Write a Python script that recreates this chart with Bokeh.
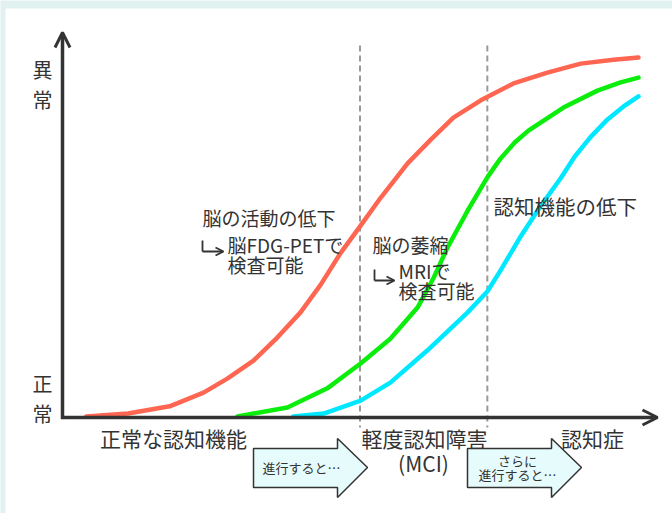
from bokeh.plotting import figure
from bokeh.models import Range1d, Arrow, OpenHead, BoxAnnotation
from bokeh.core.properties import value
from bokeh.embed import file_html
from bokeh.resources import INLINE

# ---- data (x: progression 0-100, y: abnormality 0-100) ----
red_x = [4, 11, 18, 23.7, 27.7, 32.1, 36.1, 40, 43.4, 46.7, 50.1, 53.5, 58, 61.9, 65.7, 70.3, 75.8, 81.5, 87.1, 92.6, 96.8]
red_y = [0.3, 1.1, 3.1, 6.9, 10.8, 15.8, 22.2, 29.2, 36.9, 45.6, 53.3, 61.1, 70.6, 77.2, 83.3, 88.1, 92.8, 95.8, 98.3, 99.4, 100]

green_x = [29.4, 37.8, 44.5, 50.1, 55.1, 59.7, 62.4, 64.7, 68.1, 71.4, 73.6, 76, 78.3, 84.2, 89.9, 93.8, 96.8]
green_y = [0.3, 2.8, 8.1, 15, 21.9, 30.6, 38.9, 47.2, 57.5, 66.7, 71.9, 76.4, 79.7, 86.1, 90.8, 93.1, 94.4]

cyan_x = [38.8, 43.9, 50.1, 55.1, 61.3, 68.1, 71.4, 73.6, 77, 80.3, 83.7, 86.1, 88.7, 91.6, 94.3, 96.8]
cyan_y = [0.3, 1.1, 4.7, 9.7, 18.6, 29.2, 35, 40.8, 50.3, 58.6, 66.4, 72.5, 77.8, 82.8, 86.4, 89.2]

stage_bounds = [50, 71.4]
stage_labels = ["正常な認知機能", "軽度認知障害", "認知症"]
stage_sub = "(MCI)"
y_labels = ["異\n常", "正\n常"]
notes = ["脳の活動の低下", "脳FDG-PETで", "検査可能", "脳の萎縮", "MRIで", "検査可能"]
note_main = "認知機能の低下"
arrow_texts = ["進行すると…", "さらに", "進行すると…"]

# ---- pixel layout helpers ----
PX_X0, PX_Y0, SX, SY = 62.0, 417.0, 5.95, 3.6
def dx(px):
    return (px - PX_X0) / SX
def dy(py):
    return (PX_Y0 - py) / SY

W, H = 672, 513
p = figure(width=W, height=H, output_backend="svg", toolbar_location=None,
           x_range=Range1d(dx(0), dx(W)), y_range=Range1d(dy(H), dy(0)),
           x_axis_location=None, y_axis_location=None, min_border=0,
           background_fill_color="#e1f1f0", border_fill_color="#e1f1f0")
p.outline_line_color = None
p.grid.visible = False

# white panel
p.add_layout(BoxAnnotation(left=dx(5), right=dx(W + 2), top=dy(8), bottom=dy(H + 2),
                           fill_color="white", fill_alpha=1, line_color=None, level="underlay"))

FONT = value("Noto Sans CJK JP")
TXT = "#333333"
DARK = "#333333"

# dashed stage boundaries
p.segment(x0=stage_bounds, y0=[dy(45)] * 2, x1=stage_bounds, y1=[dy(427)] * 2,
          line_color="#999999", line_width=2, line_dash="6 4")

# curves
for xs, ys, col in [(red_x, red_y, "#ff6652"), (green_x, green_y, "#0bee0b"), (cyan_x, cyan_y, "#00e8ff")]:
    p.line(xs, ys, line_color=col, line_width=4.5, line_join="round", line_cap="round")

# axes with open arrow heads
p.add_layout(Arrow(end=OpenHead(size=15, line_width=3, line_color=DARK),
                   x_start=dx(60.5), y_start=0, x_end=dx(657), y_end=0,
                   line_width=3.5, line_color=DARK))
p.add_layout(Arrow(end=OpenHead(size=15, line_width=3, line_color=DARK),
                   x_start=0, y_start=dy(418.5), x_end=0, y_end=dy(32),
                   line_width=3.5, line_color=DARK))

# y end labels
p.text(x=[dx(42), dx(42)], y=[dy(84), dy(398)], text=y_labels, text_font=FONT,
       text_font_size="20px", text_color=TXT, text_align="center",
       text_baseline="middle", text_line_height=1.05)

# stage labels
p.text(x=[dx(173), dx(424), dx(592)], y=[dy(437)] * 3, text=stage_labels, text_font=FONT,
       text_font_size="21px", text_color=TXT, text_align="center", text_baseline="middle")
p.text(x=[dx(423)], y=[dy(462)], text=[stage_sub], text_font=FONT,
       text_font_size="21px", text_color=TXT, text_align="center", text_baseline="middle")

# annotations
note_px = [(202, 217), (227, 244), (227, 264), (372, 244), (398, 270), (398, 290)]
p.text(x=[dx(a) for a, b in note_px], y=[dy(b) for a, b in note_px], text=notes, text_font=FONT,
       text_font_size="19px", text_color=TXT, text_align="left", text_baseline="middle")
p.text(x=[dx(493)], y=[dy(205)], text=[note_main], text_font=FONT,
       text_font_size="20.5px", text_color=TXT, text_align="left", text_baseline="middle")

# hooked pointer arrows (↳)
for (vx, vy0, hy, hx) in [(202, 240, 251, 223), (374, 269, 280, 394)]:
    p.line([dx(vx), dx(vx)], [dy(vy0), dy(hy)], line_color=DARK, line_width=1.8)
    p.add_layout(Arrow(end=OpenHead(size=8, line_width=1.8, line_color=DARK),
                       x_start=dx(vx), y_start=dy(hy), x_end=dx(hx), y_end=dy(hy),
                       line_width=1.8, line_color=DARK))

# block arrows
def block(L):
    pts = [(L, 448), (L + 84, 448), (L + 84, 438), (L + 114, 467), (L + 84, 497), (L + 84, 487), (L, 487)]
    return [dx(a) for a, b in pts], [dy(b) for a, b in pts]
b1 = block(253)
b2 = block(467)
p.patches(xs=[b1[0], b2[0]], ys=[b1[1], b2[1]], fill_color="#e6fbfb",
          line_color=DARK, line_width=1.5)
p.text(x=[dx(301), dx(517), dx(517)], y=[dy(467), dy(460), dy(474)], text=arrow_texts,
       text_font=FONT, text_font_size="13px", text_color=TXT, text_align="center",
       text_baseline="middle")

open("out.html", "w").write(file_html(p, INLINE))
